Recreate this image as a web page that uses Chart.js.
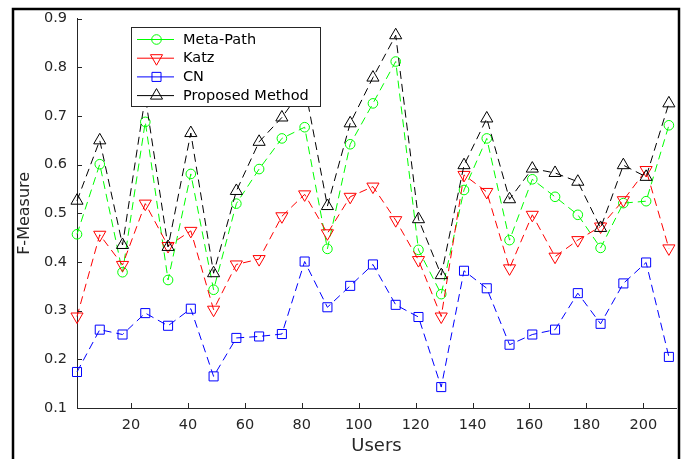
<!DOCTYPE html>
<html>
<head>
<meta charset="utf-8">
<title>F-Measure per user</title>
<script src="https://cdn.jsdelivr.net/npm/chart.js@4.4.1/dist/chart.umd.min.js"></script>
<style>
    html, body { margin: 0; padding: 0; background: #fff; }
    #wrap { width: 684px; height: 459px; }
</style>
</head>
<body>
<div id="wrap"><canvas id="fmeasureChart" width="684" height="459"></canvas></div>
<script>
        // Values
        const users = [1, 9, 17, 25, 33, 41, 49, 57, 65, 73, 81, 89, 97, 105, 113, 121, 129, 137, 145, 153, 161, 169, 177, 185, 193, 201, 209];

        const metaPath = [0.457, 0.601, 0.379, 0.688, 0.363, 0.581, 0.343, 0.520, 0.591, 0.654, 0.677, 0.427, 0.642, 0.726,
            0.812, 0.425, 0.334, 0.548, 0.654, 0.445, 0.570, 0.534, 0.497, 0.429, 0.521, 0.525, 0.681];
        const katz = [0.288, 0.456, 0.394, 0.520, 0.433, 0.464, 0.302, 0.395, 0.406, 0.494, 0.539, 0.459, 0.534, 0.555,
            0.486, 0.404, 0.288, 0.579, 0.544, 0.387, 0.497, 0.411, 0.445, 0.473, 0.527, 0.589, 0.428];
        const cn = [0.174, 0.261, 0.251, 0.295, 0.269, 0.304, 0.165, 0.244, 0.247, 0.252, 0.401, 0.307, 0.351, 0.395,
            0.312, 0.287, 0.143, 0.382, 0.346, 0.230, 0.251, 0.261, 0.336, 0.273, 0.356, 0.399, 0.205];
        const proposed = [0.526, 0.650, 0.435, 0.740, 0.431, 0.665, 0.377, 0.546, 0.647, 0.697, 0.762, 0.515, 0.685, 0.779,
            0.866, 0.488, 0.373, 0.599, 0.695, 0.529, 0.592, 0.583, 0.565, 0.470, 0.599, 0.575, 0.726];

        const xTickValues = [20, 40, 60, 80, 100, 120, 140, 160, 180, 200];
        const yTickValues = [0.1, 0.2, 0.3, 0.4, 0.5, 0.6, 0.7, 0.8, 0.9];

        const axisColor = '#262626';
        const tickFont = { family: 'DejaVu Sans', size: 14.5 };

        function makeDataset(label, values, color, pointStyle, radius, rotation, order) {
            return {
                label: label,
                data: users.map((u, i) => ({ x: u, y: values[i] })),
                borderColor: color,
                backgroundColor: 'rgba(0,0,0,0)',
                borderWidth: 1,
                borderDash: [8, 5],
                tension: 0,
                fill: false,
                clip: false,
                pointStyle: pointStyle,
                pointRadius: radius,
                pointRotation: rotation,
                pointBorderWidth: 1,
                pointBorderColor: color,
                pointBackgroundColor: 'rgba(0,0,0,0)',
                order: order
            };
        }

        // white page with the black frame round the figure
        const framePlugin = {
            id: 'frame',
            beforeDraw(chart) {
                const ctx = chart.ctx;
                ctx.save();
                ctx.fillStyle = '#fff';
                ctx.fillRect(0, 0, chart.width, chart.height);
                ctx.restore();
            },
            afterDraw(chart) {
                const ctx = chart.ctx;
                ctx.save();
                ctx.strokeStyle = '#000';
                ctx.lineWidth = 2.5;
                ctx.beginPath();
                ctx.moveTo(13, chart.height);
                ctx.lineTo(13, 9);
                ctx.lineTo(679, 9);
                ctx.lineTo(679, chart.height);
                ctx.stroke();
                ctx.restore();
            }
        };

        // MATLAB style ticks, pointing into the plot
        const inwardTicks = {
            id: 'inwardTicks',
            afterDatasetsDraw(chart) {
                const ctx = chart.ctx;
                const { left, bottom } = chart.chartArea;
                const x = chart.scales.x, y = chart.scales.y;
                ctx.save();
                ctx.strokeStyle = axisColor;
                ctx.lineWidth = 1;
                ctx.beginPath();
                xTickValues.forEach(v => {
                    const px = Math.round(x.getPixelForValue(v)) + 0.5;
                    ctx.moveTo(px, bottom);
                    ctx.lineTo(px, bottom - 5);
                });
                yTickValues.forEach(v => {
                    const py = Math.round(y.getPixelForValue(v)) + 0.5;
                    ctx.moveTo(left, py);
                    ctx.lineTo(left + 5, py);
                });
                ctx.stroke();
                ctx.restore();
            }
        };

        // legend box inside the axes, top left
        const boxLegend = {
            id: 'boxLegend',
            afterDraw(chart) {
                const ctx = chart.ctx;
                const box = { x: 131.5, y: 27.5, w: 189, h: 79 };
                ctx.save();
                ctx.fillStyle = '#fff';
                ctx.fillRect(box.x, box.y, box.w, box.h);
                ctx.strokeStyle = axisColor;
                ctx.lineWidth = 1;
                ctx.strokeRect(box.x, box.y, box.w, box.h);

                ctx.font = '14.5px "DejaVu Sans"';
                ctx.textBaseline = 'middle';
                ctx.textAlign = 'left';
                chart.data.datasets.forEach((ds, i) => {
                    const rowY = 39.5 + i * 18.7;
                    ctx.strokeStyle = ds.borderColor;
                    ctx.lineWidth = 1;
                    ctx.setLineDash([]);
                    ctx.beginPath();
                    ctx.moveTo(137, rowY);
                    ctx.lineTo(174, rowY);
                    ctx.stroke();
                    ctx.fillStyle = 'rgba(0,0,0,0)';
                    Chart.helpers.drawPoint(ctx, {
                        pointStyle: ds.pointStyle,
                        radius: ds.pointRadius,
                        rotation: ds.pointRotation,
                        borderWidth: 1
                    }, 156.5, rowY);
                    ctx.fillStyle = '#000';
                    ctx.fillText(ds.label, 183, rowY + 0.5);
                });
                ctx.restore();
            }
        };

        function drawChart() {
            const ctx = document.getElementById('fmeasureChart').getContext('2d');
            new Chart(ctx, {
                type: 'line',
                data: {
                    datasets: [
                        makeDataset('Meta-Path', metaPath, '#00ff00', 'circle', 4.8, 0, 3),
                        makeDataset('Katz', katz, '#ff0000', 'triangle', 7, 180, 2),
                        makeDataset('CN', cn, '#0000ff', 'rect', 6.4, 0, 1),
                        makeDataset('Proposed Method', proposed, '#000000', 'triangle', 7, 0, 0)
                    ]
                },
                options: {
                    responsive: false,
                    animation: false,
                    events: [],
                    layout: { padding: { left: 0, right: 7, top: 18, bottom: 0 } },
                    plugins: {
                        legend: { display: false },
                        tooltip: { enabled: false }
                    },
                    scales: {
                        x: {
                            type: 'linear',
                            min: 1,
                            max: 211.5,
                            afterBuildTicks: scale => { scale.ticks = xTickValues.map(v => ({ value: v })); },
                            afterFit: scale => { scale.height = 51; },
                            ticks: { font: tickFont, color: axisColor, padding: 9, maxRotation: 0 },
                            grid: { display: false, drawTicks: false },
                            border: { display: true, color: axisColor, width: 1 },
                            title: {
                                display: true,
                                text: 'Users',
                                color: axisColor,
                                font: { family: 'DejaVu Sans', size: 18 },
                                padding: { top: 0, bottom: 1.5 }
                            }
                        },
                        y: {
                            min: 0.1,
                            max: 0.9,
                            afterBuildTicks: scale => { scale.ticks = yTickValues.map(v => ({ value: v })); },
                            afterFit: scale => { scale.width = 77; },
                            ticks: {
                                font: tickFont,
                                color: axisColor,
                                padding: 10,
                                callback: v => v.toFixed(1)
                            },
                            grid: { display: false, drawTicks: false },
                            border: { display: true, color: axisColor, width: 1 },
                            title: {
                                display: true,
                                text: 'F-Measure',
                                color: axisColor,
                                font: { family: 'DejaVu Sans', size: 16 },
                                padding: { top: 15, bottom: 0 }
                            }
                        }
                    }
                },
                plugins: [framePlugin, inwardTicks, boxLegend]
            });
        }

        document.addEventListener('DOMContentLoaded', drawChart);
</script>
</body>
</html>
